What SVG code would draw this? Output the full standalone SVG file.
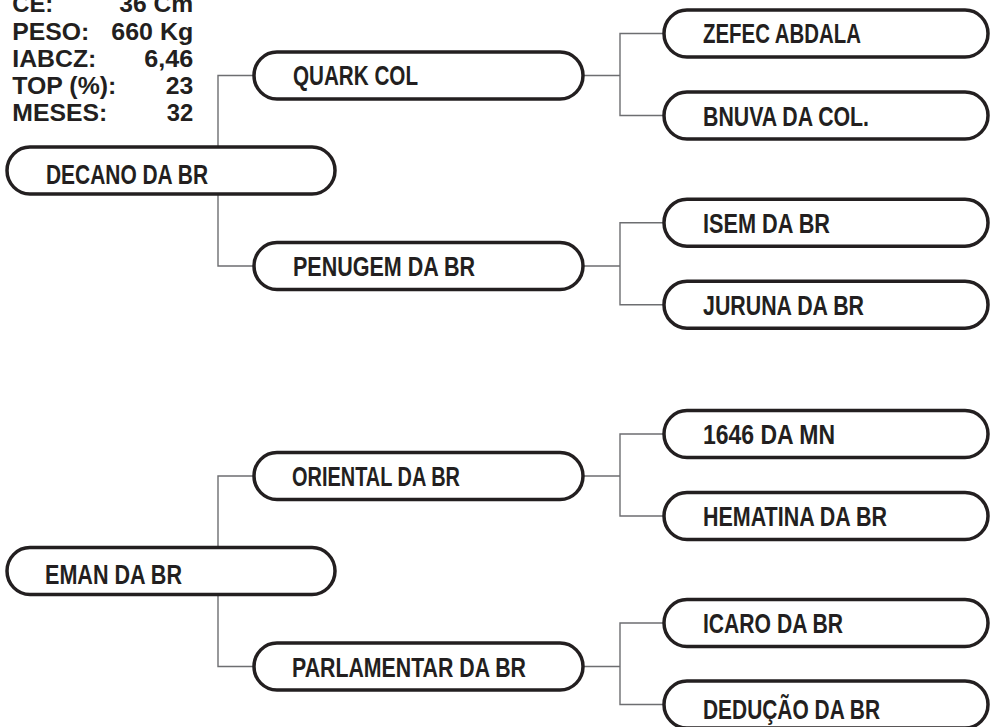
<svg xmlns="http://www.w3.org/2000/svg" width="990" height="727" viewBox="0 0 990 727">
<style>
.box{fill:#fff;stroke:#231f20;stroke-width:3.5}
.lbl{font-family:'Liberation Sans Narrow','Liberation Sans',Arial,sans-serif;font-weight:bold;font-size:27px;fill:#231f20}
.st{font-family:'Liberation Sans',Arial,sans-serif;font-weight:bold;font-size:23px;fill:#231f20}
.con{fill:none;stroke:#6d6e71;stroke-width:1.4}
</style>
<rect width="990" height="727" fill="#fff"/>
<g id="stats">
<text class="st" x="12.3" y="12" textLength="41" lengthAdjust="spacingAndGlyphs">CE:</text>
<text class="st" x="193.3" y="12" text-anchor="end" textLength="74" lengthAdjust="spacingAndGlyphs">36 Cm</text>
<text class="st" x="12.3" y="40" textLength="77" lengthAdjust="spacingAndGlyphs">PESO:</text>
<text class="st" x="193.3" y="40" text-anchor="end" textLength="82" lengthAdjust="spacingAndGlyphs">660 Kg</text>
<text class="st" x="12.3" y="67" textLength="84" lengthAdjust="spacingAndGlyphs">IABCZ:</text>
<text class="st" x="193.3" y="67" text-anchor="end" textLength="49" lengthAdjust="spacingAndGlyphs">6,46</text>
<text class="st" x="12.3" y="94" textLength="104" lengthAdjust="spacingAndGlyphs">TOP (%):</text>
<text class="st" x="193.3" y="94" text-anchor="end" textLength="27.5" lengthAdjust="spacingAndGlyphs">23</text>
<text class="st" x="12.3" y="121" textLength="95" lengthAdjust="spacingAndGlyphs">MESES:</text>
<text class="st" x="193.3" y="121" text-anchor="end" textLength="26.5" lengthAdjust="spacingAndGlyphs">32</text>
</g>
<g id="connectors">
<path class="con" d="M218,147 V75.5 H254 M218,194 V266 H254"/>
<path class="con" d="M583,75.5 H620 M664,33.5 H620 V115.5 H664"/>
<path class="con" d="M583,266 H620 M664,222.7 H620 V304.7 H664"/>
<path class="con" d="M218,547.5 V476 H254 M218,594.5 V666.5 H254"/>
<path class="con" d="M583,476 H620 M664,434 H620 V516 H664"/>
<path class="con" d="M583,666.5 H620 M664,623 H620 V704.5 H664"/>
</g>
<g id="n-decano"><rect class="box" x="7" y="147" width="328" height="47" rx="23" ry="23.5"/><text class="lbl" x="46" y="183.8" textLength="162" lengthAdjust="spacingAndGlyphs">DECANO DA BR</text></g>
<g id="n-quark"><rect class="box" x="254" y="52" width="329" height="47" rx="23" ry="23.5"/><text class="lbl" x="293" y="85.3" textLength="125" lengthAdjust="spacingAndGlyphs">QUARK COL</text></g>
<g id="n-penugem"><rect class="box" x="254" y="242.5" width="329" height="47" rx="23" ry="23.5"/><text class="lbl" x="293" y="276" textLength="182" lengthAdjust="spacingAndGlyphs">PENUGEM DA BR</text></g>
<g id="n-zefec"><rect class="box" x="664" y="10" width="324" height="47" rx="23" ry="23.5"/><text class="lbl" x="703" y="43.3" textLength="158" lengthAdjust="spacingAndGlyphs">ZEFEC ABDALA</text></g>
<g id="n-bnuva"><rect class="box" x="664" y="92" width="324" height="47" rx="23" ry="23.5"/><text class="lbl" x="703" y="125.5" textLength="166" lengthAdjust="spacingAndGlyphs">BNUVA DA COL.</text></g>
<g id="n-isem"><rect class="box" x="664" y="199.2" width="324" height="47" rx="23" ry="23.5"/><text class="lbl" x="703" y="233" textLength="127" lengthAdjust="spacingAndGlyphs">ISEM DA BR</text></g>
<g id="n-juruna"><rect class="box" x="664" y="281.2" width="324" height="47" rx="23" ry="23.5"/><text class="lbl" x="703" y="315" textLength="161" lengthAdjust="spacingAndGlyphs">JURUNA DA BR</text></g>
<g id="n-eman"><rect class="box" x="7" y="547.5" width="328" height="47" rx="23" ry="23.5"/><text class="lbl" x="45" y="584" textLength="137" lengthAdjust="spacingAndGlyphs">EMAN DA BR</text></g>
<g id="n-oriental"><rect class="box" x="254" y="452.5" width="329" height="47" rx="23" ry="23.5"/><text class="lbl" x="292" y="486" textLength="168" lengthAdjust="spacingAndGlyphs">ORIENTAL DA BR</text></g>
<g id="n-parlamentar"><rect class="box" x="254" y="643" width="329" height="47" rx="23" ry="23.5"/><text class="lbl" x="292" y="676.8" textLength="234" lengthAdjust="spacingAndGlyphs">PARLAMENTAR DA BR</text></g>
<g id="n-1646"><rect class="box" x="664" y="410.5" width="324" height="47" rx="23" ry="23.5"/><text class="lbl" x="703" y="444" textLength="132" lengthAdjust="spacingAndGlyphs">1646 DA MN</text></g>
<g id="n-hematina"><rect class="box" x="664" y="492.5" width="324" height="47" rx="23" ry="23.5"/><text class="lbl" x="703" y="526" textLength="184" lengthAdjust="spacingAndGlyphs">HEMATINA DA BR</text></g>
<g id="n-icaro"><rect class="box" x="664" y="599.5" width="324" height="47" rx="23" ry="23.5"/><text class="lbl" x="703" y="633" textLength="140" lengthAdjust="spacingAndGlyphs">ICARO DA BR</text></g>
<g id="n-deducao"><rect class="box" x="664" y="681" width="324" height="47" rx="23" ry="23.5"/><text class="lbl" x="703" y="718.5" textLength="177" lengthAdjust="spacingAndGlyphs">DEDUÇÃO DA BR</text></g>
</svg>
